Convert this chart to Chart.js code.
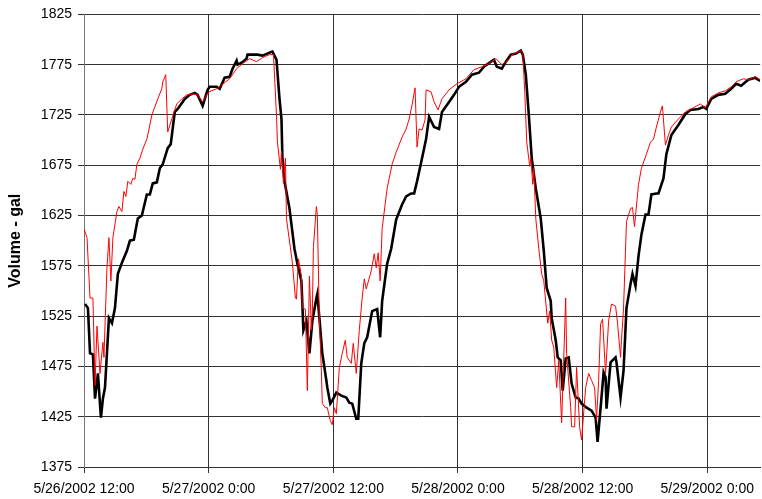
<!DOCTYPE html>
<html>
<head>
<meta charset="utf-8">
<script src="https://cdn.jsdelivr.net/npm/chart.js@4"></script>
<style>
    body { margin: 0; background: #fff; }
    #wrap { width: 762px; height: 499px; }
</style>
</head>
<body>
<div id="wrap"><canvas id="volumeChart" width="762" height="499"></canvas></div>
<script>
// Hours after 5/26/2002 12:00, and tank volume in gallons
const blackHours = [0.10, 0.38, 0.58, 0.86, 1.06, 1.34, 1.63, 1.82, 2.02, 2.40, 2.69, 2.98, 3.26, 3.65, 4.13, 4.42, 4.80, 5.18, 5.57, 6.05,
    6.34, 6.62, 7.01, 7.30, 7.58, 8.06, 8.35, 8.74, 9.02, 9.70, 10.18, 10.66, 10.94, 11.42, 11.90, 12.10, 12.77, 13.06, 13.54, 14.02,
    14.30, 14.69, 14.78, 15.17, 15.65, 15.74, 16.22, 16.70, 17.18, 17.86, 18.14, 18.53, 18.82, 19.01, 19.10, 19.30, 19.78, 20.26, 20.54, 20.93,
    21.12, 21.41, 21.70, 21.98, 22.37, 22.46, 22.66, 22.94, 23.33, 23.42, 23.71, 23.90, 24.29, 24.77, 25.25, 25.54, 25.82, 26.21, 26.40, 26.69,
    26.98, 27.26, 27.74, 28.22, 28.51, 28.70, 29.18, 29.57, 30.05, 30.62, 31.01, 31.49, 31.78, 32.06, 32.54, 32.93, 33.22, 33.70, 34.18, 34.46,
    35.14, 35.62, 36.10, 36.77, 37.34, 38.02, 38.50, 38.78, 39.46, 39.74, 40.22, 40.61, 41.09, 41.57, 42.05, 42.24, 42.53, 42.82, 43.10, 43.49,
    43.97, 44.26, 44.54, 44.93, 45.02, 45.41, 45.60, 45.89, 46.08, 46.37, 46.66, 46.94, 47.33, 47.62, 47.90, 48.38, 48.86, 49.25, 49.44, 49.73,
    50.02, 50.21, 50.30, 50.69, 51.17, 51.26, 51.65, 51.94, 52.22, 52.61, 52.80, 53.09, 53.38, 53.66, 54.05, 54.34, 54.62, 55.10, 55.30, 55.78,
    56.06, 56.54, 57.22, 57.89, 58.37, 59.14, 59.62, 59.90, 60.38, 61.06, 61.73, 62.30, 62.78, 63.26, 63.94, 64.61, 65.09];
const blackVolume = [1537, 1533, 1488, 1487, 1443, 1468, 1424, 1443, 1454, 1523, 1518, 1533, 1567, 1578, 1590, 1600, 1601, 1622, 1625, 1646,
    1646, 1657, 1658, 1672, 1676, 1692, 1696, 1728, 1731, 1741, 1745, 1747, 1745, 1734, 1750, 1753, 1753, 1751, 1762, 1763,
    1771, 1779, 1775, 1777, 1781, 1785, 1785, 1785, 1784, 1787, 1788, 1780, 1741, 1721, 1682, 1659, 1632, 1592, 1577, 1560,
    1511, 1520, 1488, 1520, 1543, 1547, 1523, 1488, 1461, 1454, 1438, 1441, 1449, 1446, 1444, 1439, 1438, 1423, 1423, 1478,
    1498, 1504, 1530, 1532, 1504, 1540, 1577, 1592, 1621, 1636, 1644, 1647, 1647, 1659, 1682, 1701, 1723, 1713, 1711, 1728,
    1738, 1745, 1753, 1758, 1765, 1767, 1773, 1775, 1780, 1773, 1771, 1778, 1785, 1786, 1789, 1785, 1765, 1725, 1682, 1652,
    1622, 1590, 1553, 1540, 1523, 1501, 1484, 1481, 1451, 1483, 1484, 1458, 1444, 1443, 1438, 1434, 1431, 1424, 1400, 1434,
    1469, 1464, 1433, 1479, 1484, 1479, 1444, 1471, 1533, 1557, 1567, 1555, 1585, 1606, 1626, 1626, 1646, 1647, 1647, 1662,
    1686, 1705, 1715, 1726, 1730, 1731, 1733, 1731, 1741, 1745, 1746, 1751, 1756, 1754, 1760, 1762, 1759];

const redHours = [0.00, 0.29, 0.58, 0.86, 1.06, 1.25, 1.54, 1.82, 1.92, 2.21, 2.40, 2.59, 2.78, 3.17, 3.36, 3.65, 3.84, 4.03, 4.22, 4.51,
    4.70, 4.90, 5.09, 5.38, 5.66, 6.05, 6.34, 6.53, 6.82, 7.10, 7.49, 7.58, 7.87, 8.06, 8.45, 8.93, 9.41, 9.89, 10.46, 10.94,
    11.42, 12.00, 12.77, 14.02, 14.69, 15.26, 15.94, 16.61, 17.18, 17.86, 18.24, 18.53, 18.62, 18.91, 19.01, 19.20, 19.39, 19.49, 19.87, 20.06,
    20.35, 20.45, 20.64, 20.93, 21.02, 21.31, 21.50, 21.70, 21.89, 21.98, 22.08, 22.37, 22.46, 22.66, 22.85, 22.94, 23.23, 23.42, 23.71, 23.90,
    24.10, 24.29, 24.58, 24.86, 25.15, 25.34, 25.73, 25.92, 26.21, 26.50, 26.78, 26.98, 27.17, 27.65, 27.94, 28.13, 28.32, 28.51, 28.70, 29.18,
    29.66, 30.05, 30.62, 31.01, 31.30, 31.58, 31.87, 32.06, 32.26, 32.54, 32.83, 32.93, 33.41, 33.70, 34.08, 34.46, 35.14, 35.90, 36.77, 37.54,
    38.30, 38.98, 39.65, 40.22, 40.90, 41.18, 42.05, 42.24, 42.43, 42.62, 42.91, 43.01, 43.20, 43.30, 43.49, 43.78, 44.06, 44.26, 44.64, 44.83,
    45.02, 45.22, 45.50, 45.70, 45.98, 46.08, 46.37, 46.46, 46.85, 46.94, 47.23, 47.42, 47.71, 47.90, 48.29, 48.58, 48.86, 49.15, 49.34, 49.54,
    49.73, 49.92, 50.21, 50.50, 50.78, 51.17, 51.36, 51.65, 51.74, 51.94, 52.22, 52.61, 52.80, 52.99, 53.38, 53.66, 54.14, 54.53, 54.82, 55.10,
    55.49, 55.68, 55.97, 56.26, 56.54, 57.22, 57.89, 58.46, 59.33, 59.81, 60.38, 61.06, 61.73, 62.30, 62.78, 63.46, 63.94, 64.61, 65.09];
const redVolume = [1612, 1603, 1543, 1543, 1456, 1515, 1468, 1499, 1484, 1573, 1603, 1560, 1603, 1629, 1634, 1629, 1649, 1644, 1659, 1656,
    1662, 1661, 1676, 1682, 1691, 1701, 1715, 1725, 1733, 1741, 1751, 1758, 1765, 1708, 1721, 1736, 1741, 1745, 1746, 1745,
    1738, 1748, 1751, 1761, 1771, 1776, 1781, 1778, 1782, 1785, 1785, 1725, 1698, 1671, 1689, 1657, 1682, 1622, 1593, 1578,
    1543, 1542, 1582, 1565, 1533, 1532, 1451, 1565, 1511, 1527, 1593, 1634, 1626, 1520, 1471, 1438, 1434, 1434, 1421, 1417,
    1434, 1428, 1474, 1488, 1501, 1484, 1478, 1498, 1468, 1511, 1543, 1562, 1552, 1570, 1587, 1573, 1588, 1560, 1612, 1652,
    1676, 1688, 1703, 1711, 1721, 1735, 1752, 1693, 1711, 1710, 1720, 1750, 1748, 1738, 1730, 1741, 1750, 1756, 1761, 1770,
    1773, 1776, 1781, 1775, 1780, 1785, 1789, 1786, 1748, 1698, 1674, 1682, 1656, 1672, 1622, 1592, 1567, 1560, 1518, 1530,
    1501, 1494, 1454, 1481, 1419, 1451, 1543, 1488, 1434, 1415, 1415, 1474, 1415, 1402, 1454, 1468, 1461, 1454, 1422, 1461,
    1517, 1522, 1468, 1520, 1537, 1535, 1518, 1484, 1501, 1533, 1619, 1632, 1633, 1614, 1656, 1672, 1686, 1698, 1701, 1713,
    1728, 1734, 1695, 1705, 1713, 1721, 1728, 1731, 1736, 1732, 1743, 1747, 1749, 1753, 1758, 1761, 1760, 1763, 1760];

// Axis ticks
const xTickHours = [0, 12, 24, 36, 48, 60];
const xTickLabels = ["5/26/2002 12:00", "5/27/2002 0:00", "5/27/2002 12:00", "5/28/2002 0:00", "5/28/2002 12:00", "5/29/2002 0:00"];
const yTicks = [1375, 1425, 1475, 1525, 1575, 1625, 1675, 1725, 1775, 1825];

function toPoints(xs, ys) {
    return xs.map((x, i) => ({ x: x, y: ys[i] }));
}

document.addEventListener("DOMContentLoaded", () => {
    const ctx = document.getElementById("volumeChart").getContext("2d");
    const font = { family: "'Liberation Sans', Arial, sans-serif", size: 14 };

    new Chart(ctx, {
        type: "line",
        data: {
            datasets: [
                {
                    label: "Red",
                    data: toPoints(redHours, redVolume),
                    borderColor: "#ff0000",
                    borderWidth: 1,
                    pointRadius: 0,
                    tension: 0,
                    fill: false,
                },
                {
                    label: "Black",
                    data: toPoints(blackHours, blackVolume),
                    borderColor: "#000000",
                    borderWidth: 2.6,
                    pointRadius: 0,
                    tension: 0,
                    fill: false,
                },
            ],
        },
        options: {
            responsive: false,
            animation: false,
            layout: { padding: { top: 12, right: 0, left: 0, bottom: 0 } },
            plugins: { legend: { display: false }, tooltip: { enabled: false } },
            scales: {
                x: {
                    type: "linear",
                    min: 0,
                    max: 65.09,
                    afterFit: (scale) => { scale.height = 32; },
                    afterBuildTicks: (scale) => {
                        scale.ticks = xTickHours.map((v) => ({ value: v }));
                    },
                    ticks: {
                        color: "#000",
                        font: font,
                        maxRotation: 0,
                        autoSkip: false,
                        padding: 8,
                        callback: (value) => xTickLabels[xTickHours.indexOf(value)],
                    },
                    grid: { color: "#333", lineWidth: 1, tickLength: 6, drawTicks: true },
                    border: { color: "#333", width: 1 },
                },
                y: {
                    min: 1375,
                    max: 1825,
                    afterFit: (scale) => { scale.width = 84; },
                    afterBuildTicks: (scale) => {
                        scale.ticks = yTicks.map((v) => ({ value: v }));
                    },
                    ticks: { color: "#000", font: font, padding: 6, callback: (value) => String(value) },
                    grid: { color: "#333", lineWidth: 1, tickLength: 6 },
                    border: { color: "#777", width: 1 },
                    title: {
                        display: true,
                        text: "Volume - gal",
                        color: "#000",
                        font: { family: font.family, size: 16, weight: "bold" },
                        padding: { top: 6, bottom: 0 },
                    },
                },
            },
        },
    });
});
</script>
</body>
</html>
